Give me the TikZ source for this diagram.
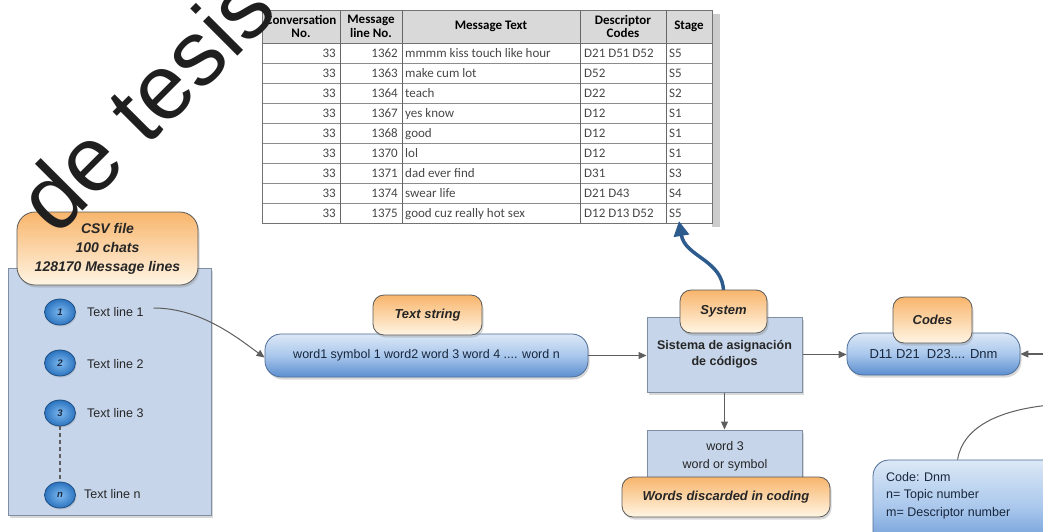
\documentclass[tikz,border=0pt]{standalone}
\usepackage{fontspec}
\setmainfont{Liberation Sans}
\newfontfamily\tabfont{Carlito}
\usetikzlibrary{shapes.geometric,arrows.meta,shadows,shadings}
\newcommand\fsz[2]{\fontsize{#1}{#2}\selectfont}

\definecolor{boxfill}{HTML}{C6D5EA}
\definecolor{boxline}{HTML}{7F8EA3}
\definecolor{tabtop}{HTML}{F8B56C}
\definecolor{tabbot}{HTML}{FFF5E4}
\definecolor{blutop}{HTML}{DCE8F6}
\definecolor{blumid}{HTML}{A9C7EC}
\definecolor{blubot}{HTML}{5B8ECF}
\definecolor{bluline}{HTML}{4E6E98}
\definecolor{blutext}{HTML}{18273D}
\definecolor{arrowgray}{HTML}{5E5E5E}
\definecolor{bigarrow}{HTML}{2D5B8D}
\definecolor{tabtext}{HTML}{262626}
\definecolor{gridline}{HTML}{8C8C8C}
\definecolor{headfill}{HTML}{D9D9D9}
\definecolor{dotline}{HTML}{1F4F82}
\definecolor{dotin}{HTML}{7DB9EF}
\definecolor{dotout}{HTML}{2C74C0}
\definecolor{dottext}{HTML}{1A2840}

\begin{document}
\begin{tikzpicture}[x=1pt,y=-1pt,
  softshadow/.style={drop shadow={opacity=0.3,shadow xshift=1.5pt,shadow yshift=-2.5pt}},
  lightbox/.style={draw=boxline, line width=1pt, fill=boxfill, inner sep=0pt,
    align=center, text=black!85, softshadow},
  tabbox/.style={draw=black!65, line width=0.8pt, rounded corners=11pt,
    top color=tabtop, bottom color=tabbot, softshadow, inner sep=0pt, align=center,
    text=tabtext, font=\fsz{13}{15.5}\bfseries\itshape},
  bluebox/.style={draw=bluline, line width=0.8pt, rounded corners=16pt,
    top color=blutop, bottom color=blubot, middle color=blumid, softshadow,
    inner sep=0pt, align=center, text=blutext, font=\fsz{12.5}{15}},
  numdot/.style={ellipse, minimum width=31pt, minimum height=26pt, inner sep=0pt,
    draw=dotline, line width=0.8pt, inner color=dotin, outer color=dotout,
    text=dottext, font=\fsz{9.5}{9.5}\bfseries\itshape,
    drop shadow={opacity=0.25,shadow xshift=1pt,shadow yshift=-1.5pt}},
  linetext/.style={anchor=west, inner sep=0pt, text=black!85, font=\fsz{12.5}{14}},
  flow/.style={draw=arrowgray, line width=1.2pt, -{Triangle[width=7pt,length=8pt]}},
  tabcell/.style={inner sep=0pt, text=black!72, font=\tabfont\fsz{13}{15}},
  headcell/.style={inner sep=0pt, align=center, text=black, font=\tabfont\bfseries\fsz{13}{13.5}}
]
\useasboundingbox (0,0) rectangle (1043,531);
\clip (0,0) rectangle (1043,531);
\fill[white] (0,0) rectangle (1043,531);

% ---------- sample output table ----------
\fill[black!20] (712,14) rectangle (720,227);
\fill[white] (262,43) rectangle (712,223);
\fill[headfill] (262,10) rectangle (712,43);
\foreach \yy in {63,83,...,203}
  \draw[gridline, line width=0.7pt] (262,\yy) -- (712,\yy);
\draw[black!55, line width=0.9pt] (262,43) -- (712,43);
\foreach \xx in {340,402,580,666}
  \draw[black!60, line width=1pt] (\xx,10) -- (\xx,223);
\draw[black!55, line width=0.9pt] (262,10) rectangle (712,223);

\node[headcell] (h1) at (301,26.5) {Conversation\\No.};
\node[headcell] (h2) at (371,26.5) {Message\\line No.};
\node[headcell] (h3) at (491,26.5) {Message Text};
\node[headcell] (h4) at (623,26.5) {Descriptor\\Codes};
\node[headcell] (h5) at (689,26.5) {Stage};

\foreach \ln/\txt/\cd/\st [count=\i] in {
  1362/mmmm kiss touch like hour/D21 D51 D52/S5,
  1363/make cum lot/D52/S5,
  1364/teach/D22/S2,
  1367/yes know/D12/S1,
  1368/good/D12/S1,
  1370/lol/D12/S1,
  1371/dad ever find/D31/S3,
  1374/swear life/D21 D43/S4,
  1375/good cuz really hot sex/D12 D13 D52/S5} {
  \pgfmathsetmacro\yy{37.5+20*\i}
  \node[tabcell, anchor=base east] (r\i-a) at (336,\yy) {33};
  \node[tabcell, anchor=base east] (r\i-b) at (398,\yy) {\ln};
  \node[tabcell, anchor=base west] (r\i-c) at (405,\yy) {\txt};
  \node[tabcell, anchor=base west] (r\i-d) at (584,\yy) {\cd};
  \node[tabcell, anchor=base west] (r\i-e) at (669,\yy) {\st};
}
\coordinate (s5tip) at (679,221);

% ---------- CSV input file ----------
\node[lightbox, minimum width=203pt, minimum height=247pt] (csv) at (109.5,391.5) {};
\node[tabbox, minimum width=181pt, minimum height=73pt, rounded corners=18pt,
  font=\fsz{14}{19}\bfseries\itshape] (csvtab) at (107.5,248.5)
  {CSV file\\100 chats\\128170 Message lines};

\node[numdot] (d1) at (60,312) {1};
\node[numdot] (d2) at (60,363) {2};
\node[numdot] (d3) at (60,413) {3};
\node[numdot] (dn) at (60,495) {n};
\draw[arrowgray, line width=1.5pt, dash pattern=on 4pt off 3pt] (d3.south) -- (dn.north);

\node[linetext] (l1) at (87,312) {Text line 1};
\node[linetext] (l2) at (87,364) {Text line 2};
\node[linetext] (l3) at (87,413) {Text line 3};
\node[linetext] (ln) at (84,494) {Text line n};

% ---------- text string ----------
\node[bluebox, minimum width=323pt, minimum height=43pt] (str) at (426.5,355.5)
  {word1 symbol 1 word2 word 3 word 4 .... word n};
\node[tabbox, minimum width=109pt, minimum height=40pt] (strtab) at (427.5,315) {Text string};

% ---------- coding system ----------
\node[lightbox, minimum width=155pt, minimum height=75pt, font=\fsz{12.5}{16}\bfseries]
  (sys) at (724.5,354.5) {Sistema de asignación\\de códigos};
\draw[bigarrow, line width=3.5pt, -{Triangle[width=15pt,length=15pt]}]
  (723.5,292) .. controls +(0,-32) and +(6,36) .. (s5tip);
\node[tabbox, minimum width=87pt, minimum height=43pt] (systab) at (723.5,311.5) {System};

% ---------- discarded words ----------
\node[lightbox, minimum width=155pt, minimum height=62pt] (disc) at (724.5,461) {};
\node[inner sep=0pt, align=center, text=black!85, font=\fsz{12.5}{18}] (disctext)
  at (725,456) {word 3\\word or symbol};
\node[tabbox, minimum width=208pt, minimum height=40pt] (disctab) at (726,497)
  {Words discarded in coding};

% ---------- codes ----------
\node[bluebox, minimum width=173pt, minimum height=42pt, font=\fsz{13}{15}] (codes)
  at (933.5,354) {D11 D21\hspace{7pt}D23.... Dnm};
\node[tabbox, minimum width=79pt, minimum height=46pt] (codestab) at (932.5,320) {Codes};

% ---------- code legend ----------
\node[bluebox, minimum width=195pt, minimum height=95pt] (legend) at (970.5,507.5) {};
\node[anchor=north west, inner sep=0pt, align=left, text=blutext, font=\fsz{12.5}{17.5}]
  (legendtext) at (886,472) {Code: Dnm\\n= Topic number\\m= Descriptor number};
\coordinate (legendlink) at (1050,405);
\draw[arrowgray, line width=1pt] ([xshift=85pt]legend.north west)
  .. controls +(5,-32) and +(-52,5) .. (legendlink);

% ---------- connectors ----------
\draw[flow, line width=1pt] ([xshift=10pt,yshift=4pt]l1.east)
  .. controls +(48,0) and +(-25,-18) .. ([yshift=-2pt]str.west);
\draw[flow] (str.east) -- (str.east -| sys.west);
\draw[flow] (sys.east) -- (sys.east -| codes.west);
\coordinate (codesin) at (1050,354);
\draw[flow] (codesin) -- (codes.east);
\draw[flow] (sys.south) -- (disc.north);

% ---------- watermark ----------
\node[anchor=base west, rotate=45, inner sep=0pt, text=black!88,
  font=\fsz{92}{92}] (wm) at (56,238) {de tesis};
\end{tikzpicture}
\end{document}
